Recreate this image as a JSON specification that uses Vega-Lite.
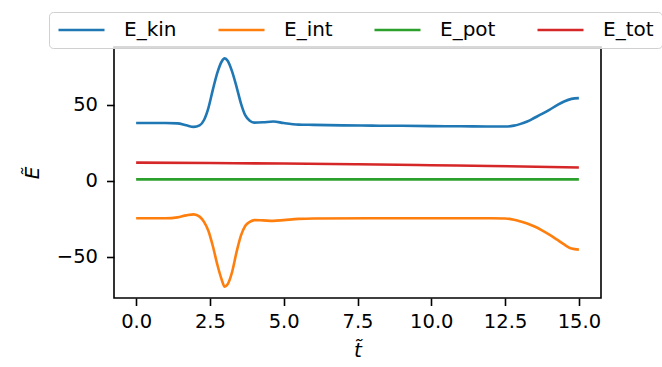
{
  "$schema": "https://vega.github.io/schema/vega-lite/v6.json",
  "width": 487,
  "height": 251,
  "autosize": {"type": "none"},
  "padding": {"left": 114, "top": 47, "right": 61, "bottom": 69},
  "background": "white",
  "config": {
    "view": {"stroke": "black", "strokeWidth": 1.6},
    "font": "DejaVu Sans",
    "axis": {
      "domain": false,
      "grid": false,
      "tickColor": "black",
      "tickSize": 7.5,
      "tickWidth": 1.6,
      "labelFont": "DejaVu Sans",
      "labelFontSize": 19.5,
      "labelColor": "black",
      "titleFont": "DejaVu Sans",
      "titleFontSize": 20,
      "titleFontWeight": "normal",
      "titleFontStyle": "italic",
      "titleColor": "black"
    }
  },
  "data": {
    "values": [
      {"t": 0, "E": 38, "series": "E_kin"},
      {"t": 0.5, "E": 38, "series": "E_kin"},
      {"t": 1.0, "E": 38, "series": "E_kin"},
      {"t": 1.4, "E": 37.8, "series": "E_kin"},
      {"t": 1.7, "E": 36.5, "series": "E_kin"},
      {"t": 1.95, "E": 35.5, "series": "E_kin"},
      {"t": 2.15, "E": 36.5, "series": "E_kin"},
      {"t": 2.3, "E": 40, "series": "E_kin"},
      {"t": 2.45, "E": 48, "series": "E_kin"},
      {"t": 2.6, "E": 60, "series": "E_kin"},
      {"t": 2.75, "E": 71, "series": "E_kin"},
      {"t": 2.9, "E": 78.5, "series": "E_kin"},
      {"t": 3.0, "E": 80.5, "series": "E_kin"},
      {"t": 3.1, "E": 79, "series": "E_kin"},
      {"t": 3.25, "E": 72, "series": "E_kin"},
      {"t": 3.4, "E": 62, "series": "E_kin"},
      {"t": 3.55, "E": 51, "series": "E_kin"},
      {"t": 3.7, "E": 43, "series": "E_kin"},
      {"t": 3.85, "E": 39.5, "series": "E_kin"},
      {"t": 4.0, "E": 38.3, "series": "E_kin"},
      {"t": 4.3, "E": 38.5, "series": "E_kin"},
      {"t": 4.65, "E": 39, "series": "E_kin"},
      {"t": 5.0, "E": 38, "series": "E_kin"},
      {"t": 5.5, "E": 37, "series": "E_kin"},
      {"t": 6, "E": 36.8, "series": "E_kin"},
      {"t": 7, "E": 36.5, "series": "E_kin"},
      {"t": 8, "E": 36.3, "series": "E_kin"},
      {"t": 9, "E": 36.2, "series": "E_kin"},
      {"t": 10, "E": 36, "series": "E_kin"},
      {"t": 11, "E": 35.9, "series": "E_kin"},
      {"t": 12, "E": 35.7, "series": "E_kin"},
      {"t": 12.5, "E": 35.7, "series": "E_kin"},
      {"t": 12.8, "E": 36.3, "series": "E_kin"},
      {"t": 13.0, "E": 37.3, "series": "E_kin"},
      {"t": 13.25, "E": 39, "series": "E_kin"},
      {"t": 13.5, "E": 41.5, "series": "E_kin"},
      {"t": 13.75, "E": 44, "series": "E_kin"},
      {"t": 14.0, "E": 46.7, "series": "E_kin"},
      {"t": 14.25, "E": 49.6, "series": "E_kin"},
      {"t": 14.5, "E": 52.2, "series": "E_kin"},
      {"t": 14.75, "E": 53.9, "series": "E_kin"},
      {"t": 15.0, "E": 54.4, "series": "E_kin"},

      {"t": 0, "E": -24.6, "series": "E_int"},
      {"t": 0.5, "E": -24.6, "series": "E_int"},
      {"t": 1.0, "E": -24.6, "series": "E_int"},
      {"t": 1.4, "E": -24, "series": "E_int"},
      {"t": 1.7, "E": -22.7, "series": "E_int"},
      {"t": 1.95, "E": -22, "series": "E_int"},
      {"t": 2.15, "E": -23.5, "series": "E_int"},
      {"t": 2.3, "E": -27, "series": "E_int"},
      {"t": 2.45, "E": -33, "series": "E_int"},
      {"t": 2.6, "E": -43, "series": "E_int"},
      {"t": 2.75, "E": -55, "series": "E_int"},
      {"t": 2.9, "E": -65, "series": "E_int"},
      {"t": 3.0, "E": -69.5, "series": "E_int"},
      {"t": 3.1, "E": -68, "series": "E_int"},
      {"t": 3.25, "E": -60, "series": "E_int"},
      {"t": 3.4, "E": -47, "series": "E_int"},
      {"t": 3.55, "E": -36, "series": "E_int"},
      {"t": 3.7, "E": -29.5, "series": "E_int"},
      {"t": 3.85, "E": -27, "series": "E_int"},
      {"t": 4.0, "E": -25.8, "series": "E_int"},
      {"t": 4.3, "E": -26, "series": "E_int"},
      {"t": 4.65, "E": -26.3, "series": "E_int"},
      {"t": 5.0, "E": -25.8, "series": "E_int"},
      {"t": 5.5, "E": -25, "series": "E_int"},
      {"t": 6, "E": -24.7, "series": "E_int"},
      {"t": 8, "E": -24.6, "series": "E_int"},
      {"t": 10, "E": -24.6, "series": "E_int"},
      {"t": 12, "E": -24.6, "series": "E_int"},
      {"t": 12.5, "E": -24.7, "series": "E_int"},
      {"t": 12.8, "E": -25.5, "series": "E_int"},
      {"t": 13.0, "E": -26.5, "series": "E_int"},
      {"t": 13.25, "E": -28, "series": "E_int"},
      {"t": 13.5, "E": -30, "series": "E_int"},
      {"t": 13.75, "E": -32.5, "series": "E_int"},
      {"t": 14.0, "E": -35.3, "series": "E_int"},
      {"t": 14.25, "E": -38.5, "series": "E_int"},
      {"t": 14.5, "E": -41.8, "series": "E_int"},
      {"t": 14.75, "E": -44.5, "series": "E_int"},
      {"t": 15.0, "E": -45.2, "series": "E_int"},

      {"t": 0, "E": 1, "series": "E_pot"},
      {"t": 5, "E": 1, "series": "E_pot"},
      {"t": 10, "E": 1, "series": "E_pot"},
      {"t": 15, "E": 1, "series": "E_pot"},

      {"t": 0, "E": 12.0, "series": "E_tot"},
      {"t": 2.5, "E": 11.7, "series": "E_tot"},
      {"t": 5, "E": 11.4, "series": "E_tot"},
      {"t": 7.5, "E": 10.9, "series": "E_tot"},
      {"t": 10, "E": 10.3, "series": "E_tot"},
      {"t": 12, "E": 9.8, "series": "E_tot"},
      {"t": 15, "E": 8.8, "series": "E_tot"}
    ]
  },
  "mark": {"type": "line", "strokeWidth": 2.6, "interpolate": "monotone"},
  "encoding": {
    "x": {
      "field": "t",
      "type": "quantitative",
      "scale": {"domain": [-0.75, 15.75], "nice": false, "zero": false},
      "axis": {
        "values": [0, 2.5, 5, 7.5, 10, 12.5, 15],
        "format": ".1f",
        "labelPadding": 7,
        "title": "t\u0303",
        "titlePadding": 9
      }
    },
    "y": {
      "field": "E",
      "type": "quantitative",
      "scale": {"domain": [-77, 88], "nice": false, "zero": false},
      "axis": {
        "values": [-50, 0, 50],
        "format": "d",
        "labelPadding": 9,
        "title": "E\u0303",
        "titlePadding": 14
      }
    },
    "color": {
      "field": "series",
      "type": "nominal",
      "scale": {
        "domain": ["E_kin", "E_int", "E_pot", "E_tot"],
        "range": ["#1f77b4", "#ff7f0e", "#2ca02c", "#d62728"]
      },
      "legend": {
        "title": null,
        "orient": "none",
        "legendX": -65,
        "legendY": -35,
        "direction": "horizontal",
        "symbolType": "stroke",
        "symbolSize": 2116,
        "symbolStrokeWidth": 2.6,
        "clipHeight": 20,
        "labelFontSize": 20,
        "labelFont": "DejaVu Sans",
        "labelColor": "black",
        "labelOffset": 18,
        "columnPadding": 40,
        "padding": 8,
        "strokeColor": "#d0d0d0",
        "fillColor": "rgba(255,255,255,0.8)",
        "cornerRadius": 4
      }
    }
  }
}
